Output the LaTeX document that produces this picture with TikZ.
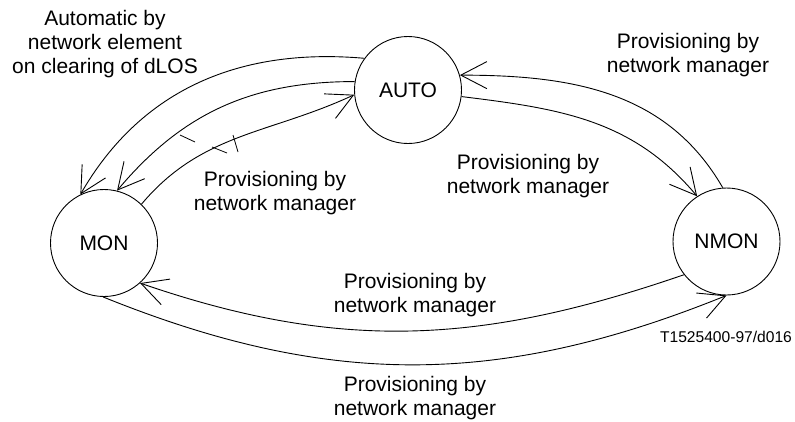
\documentclass[tikz,border=0pt]{standalone}
\usepackage{fontspec}
\setmainfont{Liberation Sans}
\usetikzlibrary{arrows.meta}
\begin{document}
\begin{tikzpicture}[x=1pt,y=1pt,
  state/.style={circle,draw,line width=0.9pt,minimum size=107pt,inner sep=0pt,font=\fontsize{21}{24}\selectfont},
  lbl/.style={align=center,inner sep=0pt,font=\fontsize{21}{24}\selectfont},
  conn/.style={line width=0.9pt,-{Straight Barb[length=26pt,width=27pt,line width=0.9pt]}},
  tick/.style={line width=0.8pt}]
\useasboundingbox (0,0) rectangle (795,-421);
\node[state] (auto) at (408,-90) {AUTO};
\node[state] (mon) at (104,-243) {MON};
\node[state] (nmon) at (726.5,-241.5) {NMON};

\node[lbl] (l1) at (105,-44) {Automatic by\\network element\\on clearing of dLOS};
\node[lbl] (l2) at (275,-193) {Provisioning by\\network manager};
\node[lbl] (l3) at (688,-55) {Provisioning by\\network manager};
\node[lbl] (l4) at (528,-176) {Provisioning by\\network manager};
\node[lbl] (l5) at (415,-295) {Provisioning by\\network manager};
\node[lbl] (l6) at (415,-398) {Provisioning by\\network manager};
\node[inner sep=0pt,font=\fontsize{15.6}{18}\selectfont] (ref) at (726,-337) {T1525400-97/d016};

\draw[conn] (auto.144) to[out=175,in=60] (mon.116);
\draw[conn] (auto.171) to[out=180,in=50] (mon.76);
\draw[conn] (mon.46) to[out=50,in=205] (auto.185);
\draw[conn] (auto.-7) to[out=-7,in=130] (nmon.123.5);
\draw[conn] (nmon.94) to[out=120,in=0] (auto.16);
\draw[conn] (nmon.218) to[out=199,in=-19] (mon.-48);
\draw[conn] (mon.-91) to[out=-22,in=202] (nmon.-90);

\draw[tick] (180,-135) -- (195,-142);
\draw[tick] (212,-147) -- (227,-153);
\draw[tick] (233,-135) -- (238,-152);
\end{tikzpicture}
\end{document}
